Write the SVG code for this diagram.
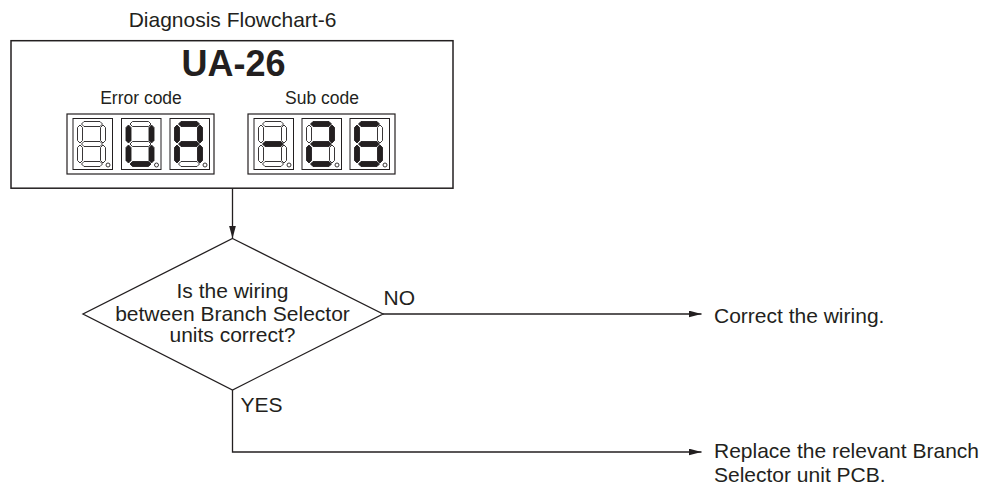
<svg xmlns="http://www.w3.org/2000/svg" width="992" height="496" viewBox="0 0 992 496">
<style>
text{font-family:"Liberation Sans",Arial,sans-serif;fill:#231f20}
.t{font-size:21px}
.c{text-anchor:middle}
.box{fill:#fff;stroke:#231f20;stroke-width:1.5}
.grp{fill:#fff;stroke:#231f20;stroke-width:1.2}
.dbox{fill:#fff;stroke:#231f20;stroke-width:1}
.off{fill:#fff;stroke:#231f20;stroke-width:0.9}
.on{fill:#231f20;stroke:#231f20;stroke-width:0.9}
.dp{fill:#fff;stroke:#231f20;stroke-width:0.9}
.ln{fill:none;stroke:#231f20;stroke-width:1.3}
</style>
<defs>
<marker id="ah" markerUnits="userSpaceOnUse" markerWidth="13" markerHeight="7" refX="13" refY="3.5" orient="auto">
<path d="M0,0 L13,3.5 L0,7 z" fill="#231f20"/>
</marker>
<polygon id="sa" points="8.5,5.5 11,3 27,3 29.5,5.5 27,8 11,8"/>
<polygon id="sg" points="8.5,25.5 11,23 27,23 29.5,25.5 27,28 11,28"/>
<polygon id="sd" points="8.5,45.5 11,43 27,43 29.5,45.5 27,48 11,48"/>
<polygon id="sf" points="7,6.5 9.5,9 9.5,22 7,24.5 4.5,22 4.5,9"/>
<polygon id="se" points="7,26.5 9.5,29 9.5,42 7,44.5 4.5,42 4.5,29"/>
<polygon id="sb" points="30,6.5 32.5,9 32.5,22 30,24.5 27.5,22 27.5,9"/>
<polygon id="sc" points="30,26.5 32.5,29 32.5,42 30,44.5 27.5,42 27.5,29"/>
</defs>

<g id="title"><text class="t c" x="232.5" y="27">Diagnosis Flowchart-6</text></g>

<g id="code-box">
<rect class="box" x="11" y="40.7" width="442" height="147.5"/>
<text class="c" x="233.5" y="76" style="font-size:36px;font-weight:bold">UA-26</text>
<text class="c" x="141" y="104" style="font-size:17.5px">Error code</text>
<text class="c" x="322" y="104" style="font-size:17.5px">Sub code</text>

<g id="error-code-display">
<rect class="grp" x="67" y="114" width="147" height="60"/>
<g transform="translate(73,118.5)">
<rect class="dbox" x="0" y="0" width="39.5" height="51"/>
<use href="#sa" class="off"/><use href="#sb" class="off"/><use href="#sc" class="off"/><use href="#sd" class="off"/><use href="#se" class="off"/><use href="#sf" class="off"/><use href="#sg" class="off"/>
<circle class="dp" cx="35" cy="46.5" r="2"/>
</g>
<g transform="translate(121.5,118.5)">
<rect class="dbox" x="0" y="0" width="39.5" height="51"/>
<use href="#sa" class="off"/><use href="#sb" class="on"/><use href="#sc" class="on"/><use href="#sd" class="on"/><use href="#se" class="on"/><use href="#sf" class="on"/><use href="#sg" class="off"/>
<circle class="dp" cx="35" cy="46.5" r="2"/>
</g>
<g transform="translate(170,118.5)">
<rect class="dbox" x="0" y="0" width="39.5" height="51"/>
<use href="#sa" class="on"/><use href="#sb" class="on"/><use href="#sc" class="on"/><use href="#sd" class="off"/><use href="#se" class="on"/><use href="#sf" class="on"/><use href="#sg" class="on"/>
<circle class="dp" cx="35" cy="46.5" r="2"/>
</g>
</g>

<g id="sub-code-display">
<rect class="grp" x="248" y="114" width="147" height="60"/>
<g transform="translate(254,118.5)">
<rect class="dbox" x="0" y="0" width="39.5" height="51"/>
<use href="#sa" class="off"/><use href="#sb" class="off"/><use href="#sc" class="off"/><use href="#sd" class="off"/><use href="#se" class="off"/><use href="#sf" class="off"/><use href="#sg" class="on"/>
<circle class="dp" cx="35" cy="46.5" r="2"/>
</g>
<g transform="translate(302,118.5)">
<rect class="dbox" x="0" y="0" width="39.5" height="51"/>
<use href="#sa" class="on"/><use href="#sb" class="on"/><use href="#sc" class="off"/><use href="#sd" class="on"/><use href="#se" class="on"/><use href="#sf" class="off"/><use href="#sg" class="on"/>
<circle class="dp" cx="35" cy="46.5" r="2"/>
</g>
<g transform="translate(350,118.5)">
<rect class="dbox" x="0" y="0" width="39.5" height="51"/>
<use href="#sa" class="on"/><use href="#sb" class="off"/><use href="#sc" class="on"/><use href="#sd" class="on"/><use href="#se" class="on"/><use href="#sf" class="on"/><use href="#sg" class="on"/>
<circle class="dp" cx="35" cy="46.5" r="2"/>
</g>
</g>
</g>

<g id="decision">
<polygon class="box" style="stroke-width:1.3" points="232.5,238.5 383,314 232.5,390 83,314"/>
<text class="t c" x="232.5" y="298">Is the wiring</text>
<text class="t c" x="232.5" y="320.5">between Branch Selector</text>
<text class="t c" x="232.5" y="342">units correct?</text>
</g>

<g id="result-no"><text class="t" x="714" y="323">Correct the wiring.</text></g>
<g id="result-yes">
<text class="t" x="714" y="458">Replace the relevant Branch</text>
<text class="t" x="714" y="481.5">Selector unit PCB.</text>
</g>

<g id="connectors">
<line class="ln" x1="232.5" y1="188.5" x2="232.5" y2="238.5" marker-end="url(#ah)"/>
<line class="ln" x1="383" y1="314" x2="701.5" y2="314" marker-end="url(#ah)"/>
<polyline class="ln" points="232.5,390 232.5,452 701.5,452" marker-end="url(#ah)"/>
<text class="t" x="383.5" y="305">NO</text>
<text class="t" x="240.5" y="412">YES</text>
</g>
</svg>
